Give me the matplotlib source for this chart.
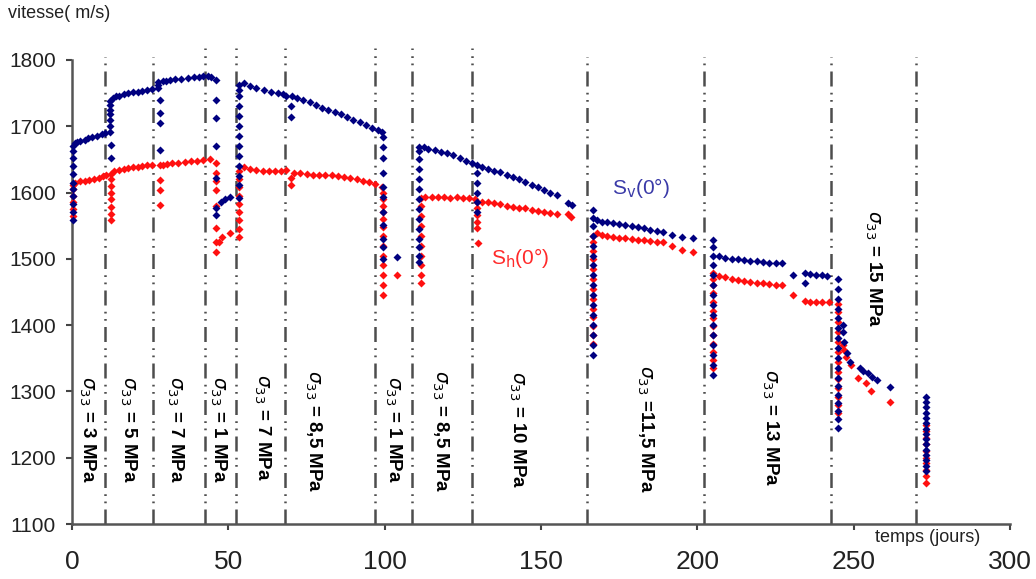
import matplotlib
matplotlib.use("Agg")
import matplotlib.pyplot as plt

plt.rcParams['font.family'] = ['Liberation Sans', 'DejaVu Sans']

# Sv(0°) velocity readings (day, m/s)
sv_points = [
    (0.3, 1558), (0.3, 1570), (0.3, 1582), (0.3, 1595), (0.3, 1605), (0.3, 1615), (0.3, 1628),
    (0.3, 1640), (0.3, 1652), (0.3, 1662), (0.3, 1670),
    (1.0, 1674), (1.5, 1676), (2.5, 1678), (4, 1680), (5, 1683), (6.5, 1684), (8, 1686), (9.5, 1688), (10.5, 1690),
    (12, 1692), (12, 1700), (12, 1710), (12, 1718), (12, 1725), (12, 1732), (12, 1738), (12.5, 1672), (12.5, 1652),
    (13, 1742), (14, 1745), (15, 1746), (16.5, 1748), (18, 1750), (19.5, 1751), (21, 1752), (22.5, 1753),
    (24, 1755), (25.5, 1756),
    (27.5, 1758), (27.5, 1762), (27.5, 1766), (28, 1740), (28, 1720), (28, 1705), (28, 1664),
    (29, 1768), (30, 1769), (31.5, 1770), (33, 1771), (35, 1772), (37, 1773), (39, 1774), (40.5, 1775),
    (42, 1776), (43.5, 1776), (44.5, 1775),
    (46, 1770), (46, 1740), (46, 1712), (46, 1670), (46, 1622), (46, 1577), (46, 1566),
    (47.5, 1586), (49, 1590), (50.5, 1593),
    (53.5, 1592), (53.5, 1612), (53.5, 1625), (53.5, 1640), (53.5, 1655), (53.5, 1670), (53.5, 1685),
    (53.5, 1700), (53.5, 1715), (53.5, 1730), (53.5, 1745), (53.5, 1755), (53.5, 1762),
    (55, 1765), (57, 1760), (59, 1757), (61.5, 1755), (63.5, 1752), (66, 1750), (67.5, 1748), (68.5, 1746),
    (70, 1730), (70, 1714), (70.5, 1745), (72, 1743), (74, 1740), (76, 1736), (78, 1732), (80, 1728),
    (82, 1725), (84, 1722), (86, 1718), (88, 1714), (90, 1710), (92, 1706), (94, 1702), (96, 1698),
    (98, 1694), (99, 1692),
    (99.5, 1684), (99.5, 1669), (99.5, 1652), (99.5, 1629), (99.5, 1608), (99.5, 1593), (99.5, 1570),
    (99.5, 1551), (99.5, 1530), (99.5, 1518), (99.5, 1500), (104, 1503),
    (111, 1495), (111, 1505), (111, 1518), (111, 1530), (111, 1545), (111, 1560), (111, 1575), (111, 1590),
    (111, 1605), (111, 1620), (111, 1635), (111, 1650), (111, 1662), (111, 1668),
    (112.5, 1668), (114, 1666), (116, 1664), (118, 1661), (120, 1659), (122, 1656), (124, 1652),
    (126, 1648), (128, 1644),
    (129.5, 1570), (129.5, 1585), (129.5, 1600), (129.5, 1615), (129.5, 1630), (129.5, 1641),
    (131, 1638), (133, 1636), (135, 1633), (137, 1631), (139, 1627), (141, 1624), (143, 1620), (145, 1616),
    (147, 1612), (149, 1608), (151, 1604), (153, 1600), (155, 1596), (158.5, 1584), (160, 1581),
    (166.5, 1355), (166.5, 1370), (166.5, 1385), (166.5, 1400), (166.5, 1415), (166.5, 1430), (166.5, 1445),
    (166.5, 1460), (166.5, 1475), (166.5, 1490), (166.5, 1505), (166.5, 1520), (166.5, 1535), (166.5, 1550),
    (166.5, 1562), (166.5, 1574),
    (168, 1558), (169.5, 1556), (171, 1555), (173, 1554), (175, 1553), (177, 1551), (179, 1550), (181, 1548),
    (183, 1546), (185, 1544), (187, 1542), (189, 1541), (192, 1536), (195, 1533), (198.5, 1531),
    (205, 1325), (205, 1340), (205, 1355), (205, 1370), (205, 1385), (205, 1400), (205, 1415), (205, 1430),
    (205, 1445), (205, 1460), (205, 1475), (205, 1490), (205, 1505), (205, 1518), (205, 1528),
    (207, 1505), (209, 1502), (211, 1500), (213, 1499), (215, 1498), (217, 1497), (219, 1496), (221, 1495),
    (223, 1494), (225, 1494), (227, 1494), (230.5, 1476), (234.5, 1478), (234.5, 1464), (236, 1477),
    (238, 1476), (240, 1475), (241.5, 1474),
    (245, 1245), (245, 1258), (245, 1270), (245, 1282), (245, 1295), (245, 1308), (245, 1320), (245, 1335),
    (245, 1350), (245, 1365), (245, 1380), (245, 1395), (245, 1410), (245, 1425), (245, 1440), (245, 1455),
    (245, 1470),
    (246.5, 1400), (246.5, 1390), (247, 1375), (247.8, 1358), (248.8, 1345), (252, 1335), (253, 1331),
    (254.5, 1328), (256, 1322), (257.6, 1317), (261.6, 1307),
    (273, 1180), (273, 1188), (273, 1196), (273, 1204), (273, 1212), (273, 1220), (273, 1228), (273, 1236),
    (273, 1244), (273, 1252), (273, 1260), (273, 1268), (273, 1276), (273, 1284), (273, 1292),
]

# Sh(0°) velocity readings (day, m/s)
sh_points = [
    (0.3, 1565), (0.3, 1575), (0.3, 1585), (0.3, 1595), (0.3, 1605), (0.3, 1612),
    (1, 1615), (2.5, 1617), (4, 1618), (5.5, 1619), (7, 1620), (8.5, 1622), (10, 1625), (11, 1627),
    (12.5, 1558), (12.5, 1568), (12.5, 1578), (12.5, 1590), (12.5, 1600), (12.5, 1610), (12.5, 1620), (12.5, 1628),
    (13.5, 1632), (15, 1634), (16.5, 1636), (18, 1637), (19.5, 1638), (21, 1639), (22.5, 1640), (24, 1641),
    (25.5, 1641),
    (28, 1642), (28, 1619), (28, 1604), (28, 1581),
    (29, 1642), (30.5, 1643), (32, 1644), (34, 1645), (36, 1646), (38, 1647), (40, 1648), (42, 1649), (44, 1650),
    (46, 1645), (46, 1630), (46, 1618), (46, 1604), (46, 1580), (46, 1546), (46, 1525), (46, 1510),
    (47, 1526), (48, 1533), (50.5, 1539),
    (53.5, 1533), (53.5, 1545), (53.5, 1558), (53.5, 1570), (53.5, 1582), (53.5, 1595), (53.5, 1608),
    (53.5, 1620), (53.5, 1632),
    (55, 1639), (57, 1636), (59, 1634), (61, 1633), (63, 1632), (65, 1632), (67, 1633), (68.5, 1634),
    (70, 1622), (70, 1612), (71, 1630), (73, 1629), (75, 1628), (77, 1627), (79, 1627), (81, 1627),
    (83, 1626), (85, 1625), (87, 1624), (89, 1622), (91, 1620), (93, 1618), (95, 1616), (97, 1613), (99, 1608),
    (99.5, 1600), (99.5, 1590), (99.5, 1580), (99.5, 1570), (99.5, 1560), (99.5, 1548), (99.5, 1535),
    (99.5, 1520), (99.5, 1505), (99.5, 1490), (99.5, 1476), (99.5, 1460), (99.5, 1445), (104, 1476),
    (111.5, 1464), (111.5, 1475), (111.5, 1490), (111.5, 1505), (111.5, 1520), (111.5, 1535), (111.5, 1550),
    (111.5, 1565), (111.5, 1580), (111.5, 1592),
    (113, 1593), (115, 1593), (117, 1593), (119, 1593), (121, 1592), (123, 1593), (125, 1592), (127, 1592),
    (129, 1591),
    (129.5, 1546), (129.5, 1556), (129.5, 1566), (129.5, 1576), (129.5, 1586), (130, 1524),
    (131, 1586), (133, 1585), (135, 1584), (137, 1583), (139, 1580), (141, 1578), (143, 1577), (145, 1576),
    (147, 1574), (149, 1572), (151, 1571), (153, 1569), (155, 1568), (158.5, 1567), (159.5, 1563),
    (166.5, 1372), (166.5, 1385), (166.5, 1398), (166.5, 1412), (166.5, 1425), (166.5, 1440), (166.5, 1455),
    (166.5, 1470), (166.5, 1485), (166.5, 1500), (166.5, 1512), (166.5, 1525), (166.5, 1535),
    (168, 1539), (169.5, 1536), (171, 1534), (173, 1533), (175, 1532), (177, 1531), (179, 1530), (181, 1529),
    (183, 1528), (185, 1527), (187, 1526), (189, 1525), (192, 1519), (195, 1514), (198.5, 1510),
    (205, 1335), (205, 1348), (205, 1360), (205, 1372), (205, 1385), (205, 1398), (205, 1410), (205, 1422),
    (205, 1435), (205, 1448), (205, 1460), (205, 1470), (205, 1479),
    (207, 1474), (209, 1472), (211, 1470), (213, 1468), (215, 1466), (217, 1465), (219, 1464), (221, 1463),
    (223, 1462), (225, 1461), (227, 1461), (230.5, 1445), (234.5, 1436), (236, 1435), (238, 1435),
    (240, 1435), (242, 1435),
    (245, 1268), (245, 1280), (245, 1292), (245, 1305), (245, 1318), (245, 1330), (245, 1345), (245, 1360),
    (245, 1375), (245, 1390), (245, 1405), (245, 1420), (245, 1432),
    (246.5, 1370), (247, 1362), (247.5, 1352), (249, 1340), (251.5, 1320), (254, 1313), (255.5, 1300),
    (261.5, 1284),
    (273, 1162), (273, 1172), (273, 1182), (273, 1192), (273, 1200), (273, 1210), (273, 1220), (273, 1230),
    (273, 1240), (273, 1250),
]

# loading steps: boundaries (days) and the sigma33 level of each stage
boundary_days = [10.6, 25.9, 42.5, 52.4, 68.1, 96.9, 108.7, 127.9, 164.7, 202.1, 242.7, 269.9]
boundary_top = [1805, 1805, 1818, 1818, 1818, 1818, 1818, 1818, 1805, 1805, 1805, 1805]
stage_days = [4.8, 17.9, 32.9, 46.7, 60.8, 77.1, 102.6, 117.7, 142.3, 183.2, 223.2, 256.2]
stage_speed = [1243, 1243, 1243, 1243, 1245, 1240, 1243, 1240, 1242, 1243, 1245, 1486]
stage_text = ["= 3 MPa", "= 5 MPa", "= 7 MPa", "= 1 MPa", "= 7 MPa", "= 8,5 MPa",
              "= 1 MPa", "= 8,5 MPa", "= 10 MPa", "=11,5 MPa", "= 13 MPa", "= 15 MPa"]

fig = plt.figure(figsize=(10.36, 5.79), dpi=100)
ax = fig.add_axes([72 / 1036, 1 - 524 / 579, 938 / 1036, (524 - 46.7) / 579])

ax.vlines(boundary_days, 1100, boundary_top, colors="#4d4d4d", lw=1.8,
          linestyles=[(0, (6, 2.5, 0.7, 2.2, 0.7, 2.5))], zorder=2)

sh_days, sh_speed = zip(*sh_points)
sv_days, sv_speed = zip(*sv_points)
ax.plot(sh_days, sh_speed, ls="none", marker="D", ms=3.8, color="#ff1010", mec="none",
        clip_on=False, zorder=3)
ax.plot(sv_days, sv_speed, ls="none", marker="D", ms=3.8, color="#000080", mec="none",
        clip_on=False, zorder=4)

for d, v, t in zip(stage_days, stage_speed, stage_text):
    ax.text(d, v, r"$\sigma_{33}$ " + t, rotation=270, ha="center", va="center",
            fontsize=13.5, fontweight="bold", color="black", zorder=5)

ax.text(172.7, 1607, r"S$_{\mathrm{v}}$(0°)", color="#3a3aa8", fontsize=15, va="center")
ax.text(134.0, 1501, r"S$_{\mathrm{h}}$(0°)", color="#ff2a2a", fontsize=15, va="center")

ax.set_xlim(0, 300)
ax.set_ylim(1100, 1820)
ax.set_xticks(range(0, 301, 50))
ax.set_yticks(range(1100, 1801, 100))
for side in ["top", "right"]:
    ax.spines[side].set_visible(False)
ax.spines["left"].set_bounds(1100, 1800)
ax.spines["bottom"].set_bounds(0, 300)
for side in ["left", "bottom"]:
    ax.spines[side].set_color("#555555")
    ax.spines[side].set_linewidth(1.8)
ax.tick_params(axis="both", direction="out", length=4.5, width=1.5, color="#444444")
ax.tick_params(axis="y", labelsize=15, pad=7, labelcolor="#222222")
ax.tick_params(axis="x", labelsize=19, pad=14, labelcolor="#222222")

fig.text(8 / 1036, 1 - 14 / 579, "vitesse( m/s)", fontsize=13, va="center", color="#222222")
fig.text(875 / 1036, 1 - 537 / 579, "temps (jours)", fontsize=13, va="center", color="#222222")

fig.savefig("out.png", dpi=100, facecolor="white")
